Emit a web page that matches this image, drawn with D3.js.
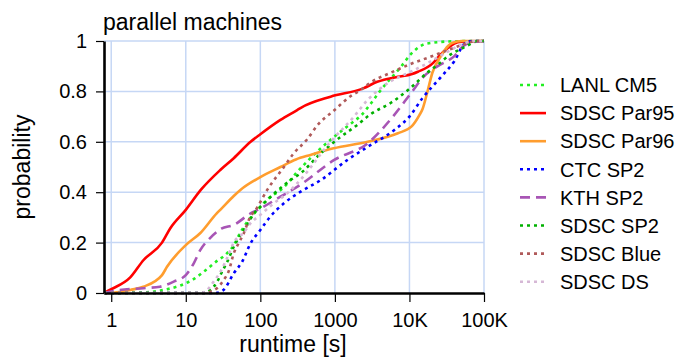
<!DOCTYPE html>
<html>
<head>
<meta charset="utf-8">
<script src="https://cdn.jsdelivr.net/npm/d3@7"></script>
<style>
  body { margin: 0; background: #fff; }
  svg { font-family: Arial, 'Liberation Sans', Helvetica, sans-serif; }
</style>
</head>
<body>
<div class="chart"></div>
<script>
// runtime [s], cumulative probability
var lanlCM5 = [[0.8,0],[3,0.003],[5.6,0.015],[8.5,0.03],[12.7,0.055],[19.3,0.095],[27,0.13],[32,0.145],[44,0.19],[54,0.24],[70,0.29],[95,0.335],[123,0.37],[207,0.42],[312,0.48],[580,0.561],[980,0.62],[1650,0.673],[2250,0.705],[3000,0.75],[4000,0.8],[7800,0.9],[10600,0.95],[17300,0.99],[40000,0.999],[100000,1]];
var sdscPar95 = [[0.8,0],[1,0.015],[1.8,0.062],[2.7,0.13],[4.8,0.2],[6.2,0.257],[10,0.33],[16,0.41],[29,0.488],[44,0.535],[74,0.6],[100,0.63],[186,0.687],[312,0.726],[350,0.735],[875,0.779],[2400,0.812],[3700,0.838],[7000,0.858],[10600,0.868],[13000,0.878],[21000,0.914],[25000,0.94],[33000,0.973],[40000,0.99],[50000,0.997],[100000,1]];
var sdscPar96 = [[0.8,0],[1.2,0.003],[1.8,0.012],[2.7,0.025],[4.8,0.071],[5.6,0.104],[10,0.19],[15.7,0.238],[26,0.316],[29,0.33],[44,0.385],[54,0.409],[100,0.46],[186,0.5],[300,0.53],[470,0.548],[960,0.574],[2750,0.6],[7000,0.634],[10600,0.66],[13600,0.706],[15000,0.73],[17300,0.795],[20300,0.874],[26500,0.94],[33000,0.98],[38000,0.993],[50000,1],[100000,1]];
var ctcSP2 = [[0.8,0],[25,0],[32,0.012],[44,0.078],[57,0.124],[74,0.197],[100,0.25],[136,0.303],[207,0.356],[347,0.402],[645,0.448],[1470,0.528],[2750,0.58],[6280,0.647],[10000,0.7],[15000,0.774],[26500,0.857],[40000,0.92],[55000,0.99],[70000,1],[100000,1]];
var kthSP2 = [[0.8,0],[1.3,0.012],[2.7,0.019],[4.5,0.025],[6.9,0.045],[10,0.071],[12.8,0.118],[15.7,0.171],[21,0.217],[30,0.255],[44,0.27],[74,0.316],[91,0.329],[186,0.382],[347,0.43],[980,0.528],[2750,0.594],[6000,0.7],[10600,0.795],[15800,0.861],[24000,0.9],[40000,0.94],[53000,0.98],[65000,0.993],[100000,1]];
var sdscSP2 = [[0.8,0],[18,0],[21.4,0.012],[26.4,0.045],[30.7,0.085],[36,0.124],[44,0.184],[54,0.23],[66.5,0.27],[82,0.316],[100,0.342],[254,0.448],[347,0.475],[645,0.554],[1200,0.62],[2000,0.667],[3000,0.709],[5650,0.755],[10000,0.81],[17300,0.874],[25000,0.91],[33000,0.94],[50000,0.97],[68000,0.99],[80000,1],[100000,1]];
var sdscBlue = [[0.8,0],[18,0],[21.4,0.005],[26.4,0.02],[32,0.05],[38,0.09],[44,0.157],[51,0.197],[60,0.237],[70,0.29],[91,0.34],[123,0.408],[207,0.5],[280,0.554],[425,0.61],[580,0.665],[980,0.725],[1600,0.78],[2200,0.805],[3000,0.835],[5600,0.874],[10600,0.91],[19000,0.937],[35000,0.967],[54000,0.987],[80000,1],[100000,1]];
var sdscDS = [[0.8,0],[16,0],[19.3,0.012],[23.6,0.045],[29.2,0.085],[36,0.14],[44,0.2],[60,0.24],[74,0.277],[100,0.31],[150,0.355],[228,0.395],[347,0.45],[875,0.6],[1800,0.7],[2750,0.766],[5050,0.832],[9400,0.872],[17300,0.911],[32700,0.958],[54000,0.99],[70000,1],[100000,1]];

var names = ['LANL CM5', 'SDSC Par95', 'SDSC Par96', 'CTC SP2', 'KTH SP2', 'SDSC SP2', 'SDSC Blue', 'SDSC DS'];
var xTicks = [1, 10, 100, 1000, 10000, 100000];
var xTickLabels = ['1', '10', '100', '1000', '10K', '100K'];
var yTicks = [0, 0.2, 0.4, 0.6, 0.8, 1];

var series = [
  { data: lanlCM5,   color: '#22ee22', dash: '3,4' },
  { data: sdscPar95, color: '#ff0000', dash: null },
  { data: sdscPar96, color: '#ff9d2e', dash: null },
  { data: ctcSP2,    color: '#0000ff', dash: '3,4' },
  { data: kthSP2,    color: '#a855b5', dash: '10,6' },
  { data: sdscSP2,   color: '#00b000', dash: '3,4' },
  { data: sdscBlue,  color: '#b05a5a', dash: '3,4' },
  { data: sdscDS,    color: '#d6b8d6', dash: '3,4' }
];

var width = 688, height = 363;
var plotLeft = 104, plotRight = 484, plotTop = 41, plotBottom = 293;

var svg = d3.select('.chart').append('svg')
  .attr('width', width)
  .attr('height', height);

var x = d3.scaleLog().domain([0.8, 100000]).range([plotLeft, plotRight]);
var y = d3.scaleLinear().domain([0, 1]).range([plotBottom, plotTop]);

// grid
var grid = svg.append('g').attr('stroke', '#c6d7f5').attr('stroke-width', 1.5);
grid.selectAll('.gx').data(xTicks).enter().append('line')
  .attr('x1', function (d) { return x(d) }).attr('x2', function (d) { return x(d) })
  .attr('y1', plotTop).attr('y2', plotBottom);
grid.selectAll('.gy').data(yTicks.slice(1)).enter().append('line')
  .attr('x1', plotLeft).attr('x2', plotRight)
  .attr('y1', function (d) { return y(d) }).attr('y2', function (d) { return y(d) });

// curves
var line = d3.line()
  .curve(d3.curveMonotoneX)
  .x(function (d) { return x(d[0]) })
  .y(function (d) { return y(d[1]) });

var paths = svg.append('g');
series.forEach(function (s) {
  paths.append('path')
    .datum(s.data)
    .attr('d', line)
    .attr('fill', 'none')
    .attr('stroke', s.color)
    .attr('stroke-width', 2.6)
    .attr('stroke-dasharray', s.dash);
});

// axes
var xAxis = d3.axisBottom(x)
  .tickValues(xTicks)
  .tickFormat(function (d, i) { return xTickLabels[i] })
  .tickSize(9).tickSizeOuter(0).tickPadding(11);
var xg = svg.append('g')
  .attr('transform', 'translate(0,' + plotBottom + ')')
  .call(xAxis);

var yAxis = d3.axisLeft(y)
  .tickValues(yTicks)
  .tickFormat(function (d) { return d === 0 || d === 1 ? d3.format('d')(d) : d3.format('.1f')(d) })
  .tickSize(8).tickSizeOuter(0).tickPadding(9);
var yg = svg.append('g')
  .attr('transform', 'translate(' + plotLeft + ',0)')
  .call(yAxis);

[xg, yg].forEach(function (g) {
  g.select('.domain').attr('stroke', '#000').attr('stroke-width', 2.6);
  g.selectAll('.tick line').attr('stroke', '#000').attr('stroke-width', 1.2);
  g.selectAll('.tick text').attr('fill', '#000').style('font-size', '20px')
    .style('font-family', 'Arial, Liberation Sans, sans-serif');
});

// titles
svg.append('text')
  .attr('x', 103).attr('y', 30)
  .style('font-size', '23px')
  .text('parallel machines');

svg.append('text')
  .attr('x', 293).attr('y', 352)
  .attr('text-anchor', 'middle')
  .style('font-size', '23px')
  .text('runtime [s]');

svg.append('text')
  .attr('text-anchor', 'middle')
  .attr('transform', 'translate(30,167)rotate(-90)')
  .style('font-size', '23px')
  .text('probability');

// legend
var legend = svg.append('g');
series.forEach(function (s, i) {
  var ly = 85 + i * 28.1;
  legend.append('line')
    .attr('x1', 520).attr('x2', 546)
    .attr('y1', ly).attr('y2', ly)
    .attr('stroke', s.color)
    .attr('stroke-width', 2.6)
    .attr('stroke-dasharray', s.dash);
  legend.append('text')
    .attr('x', 560).attr('y', ly)
    .attr('dy', '0.36em')
    .style('font-size', '20px')
    .text(names[i]);
});
</script>
</body>
</html>
